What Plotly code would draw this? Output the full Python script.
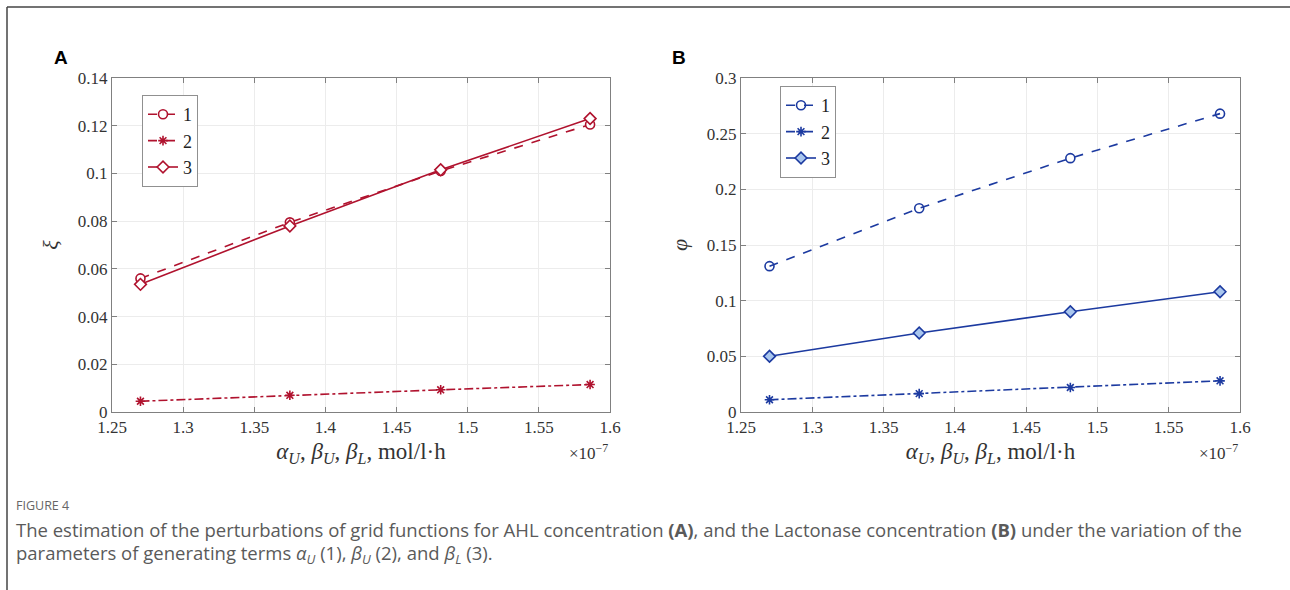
import plotly.graph_objects as go

# ---------------- data ----------------
x_vals = [1.27, 1.375, 1.481, 1.586]  # x 1e-7 mol/l·h

a_s1 = [0.056, 0.0795, 0.101, 0.1205]
a_s2 = [0.0045, 0.007, 0.0093, 0.0115]
a_s3 = [0.0535, 0.078, 0.1015, 0.123]

b_s1 = [0.131, 0.183, 0.228, 0.268]
b_s2 = [0.011, 0.0165, 0.022, 0.028]
b_s3 = [0.050, 0.071, 0.090, 0.108]

series_names = ["1", "2", "3"]

x_ticks = [1.25, 1.3, 1.35, 1.4, 1.45, 1.5, 1.55, 1.6]
x_ticktext = ["1.25", "1.3", "1.35", "1.4", "1.45", "1.5", "1.55", "1.6"]
a_yticks = [0, 0.02, 0.04, 0.06, 0.08, 0.1, 0.12, 0.14]
a_yticktext = ["0", "0.02", "0.04", "0.06", "0.08", "0.1", "0.12", "0.14"]
b_yticks = [0, 0.05, 0.1, 0.15, 0.2, 0.25, 0.3]
b_yticktext = ["0", "0.05", "0.1", "0.15", "0.2", "0.25", "0.3"]

caption_title = "FIGURE 4"
caption_l1 = ("The estimation of the perturbations of grid functions for AHL concentration <b>(A)</b>, "
              "and the Lactonase concentration <b>(B)</b> under the variation of the")
caption_l2 = ("parameters of generating terms <i>α<sub>U</sub></i> (1), <i>β<sub>U</sub></i> (2), "
              "and <i>β<sub>L</sub></i> (3).")

# ---------------- style ----------------
W, H = 1290, 590
RED = "#b0122e"
BLUE = "#1c3aa0"
LIGHTBLUE = "#a9c6ee"
SERIF = "Liberation Serif"
SANS = "Open Sans"
TXT = "#333333"
TICKFONT = dict(family=SERIF, size=17, color=TXT)

def px(x):
    return x / W

def py(y):
    return 1 - y / H

fig = go.Figure()

dashes = ["dash", "dashdot", "solid"]

# Panel A
a_symbols = ["circle", "asterisk-open", "diamond"]
for name, ys, d, sym in zip(series_names, [a_s1, a_s2, a_s3], dashes, a_symbols):
    fig.add_trace(go.Scatter(
        x=x_vals, y=ys, name=name, mode="lines+markers",
        line=dict(color=RED, width=1.6, dash=d),
        marker=dict(symbol=sym, size=9 if sym != "asterisk-open" else 8,
                    color="white" if sym != "asterisk-open" else RED,
                    line=dict(color=RED, width=1.6)),
        xaxis="x", yaxis="y", legend="legend"))

# Panel B
b_symbols = ["circle-open", "asterisk-open", "diamond"]
for name, ys, d, sym in zip(series_names, [b_s1, b_s2, b_s3], dashes, b_symbols):
    fill = {"circle-open": BLUE, "asterisk-open": BLUE, "diamond": LIGHTBLUE}[sym]
    fig.add_trace(go.Scatter(
        x=x_vals, y=ys, name=name, mode="lines+markers",
        line=dict(color=BLUE, width=1.6, dash=d),
        marker=dict(symbol=sym, size=9 if sym != "asterisk-open" else 8,
                    color=fill, line=dict(color=BLUE, width=1.6)),
        xaxis="x2", yaxis="y2", legend="legend2"))


def axis(**kw):
    base = dict(
        showline=True, linecolor="#808080", linewidth=1, mirror="ticks",
        ticks="inside", ticklen=5, tickcolor="#808080",
        showgrid=True, gridcolor="#ececec", gridwidth=1,
        zeroline=False, automargin=False, showticklabels=True,
    )
    base.update(kw)
    return base


def xtitle():
    return dict(text="<i>α<sub>U</sub></i>, <i>β<sub>U</sub></i>, <i>β<sub>L</sub></i>, mol/l·h",
                font=dict(family=SERIF, size=23, color=TXT), standoff=6)


ydom = [py(412), py(78)]
fig.update_layout(
    width=W, height=H,
    margin=dict(l=0, r=0, t=0, b=0, pad=0),
    paper_bgcolor="white", plot_bgcolor="white",
    font=dict(family=SERIF, size=17, color=TXT),
    xaxis=axis(domain=[px(112), px(610)], anchor="y", range=[1.25, 1.6],
               tickvals=x_ticks, ticktext=x_ticktext, title=xtitle()),
    yaxis=axis(domain=ydom, anchor="x", range=[0, 0.14],
               tickvals=a_yticks, ticktext=a_yticktext,
               title=dict(text="<i>ξ</i>", font=dict(family=SERIF, size=22, color=TXT), standoff=13)),
    xaxis2=axis(domain=[px(741), px(1240)], anchor="y2", range=[1.25, 1.6],
                tickvals=x_ticks, ticktext=x_ticktext, title=xtitle()),
    yaxis2=axis(domain=ydom, anchor="x2", range=[0, 0.3],
                tickvals=b_yticks, ticktext=b_yticktext,
                title=dict(text="<i>φ</i>", font=dict(family=SERIF, size=22, color=TXT), standoff=13)),
    legend=dict(x=px(142), y=py(95), xanchor="left", yanchor="top",
                bgcolor="white", bordercolor="#909090", borderwidth=1,
                font=dict(family=SERIF, size=18, color="#222222"),
                itemwidth=30, tracegroupgap=0),
    legend2=dict(x=px(780), y=py(86), xanchor="left", yanchor="top",
                 bgcolor="white", bordercolor="#909090", borderwidth=1,
                 font=dict(family=SERIF, size=18, color="#222222"),
                 itemwidth=30, tracegroupgap=0),
    showlegend=True,
)
fig.update_xaxes(tickfont=TICKFONT)
fig.update_yaxes(tickfont=TICKFONT)

annotations = [
    dict(text="<b>A</b>", x=px(52), y=py(57), xanchor="left", yanchor="middle",
         font=dict(family="Liberation Sans", size=19, color="black")),
    dict(text="<b>B</b>", x=px(670), y=py(57), xanchor="left", yanchor="middle",
         font=dict(family="Liberation Sans", size=19, color="black")),
    dict(text="×10<sup>−7</sup>", x=px(610), y=py(452), xanchor="right", yanchor="middle",
         font=dict(family=SERIF, size=17, color=TXT)),
    dict(text="×10<sup>−7</sup>", x=px(1240), y=py(452), xanchor="right", yanchor="middle",
         font=dict(family=SERIF, size=17, color=TXT)),
    dict(text=caption_title, x=px(14), y=py(505), xanchor="left", yanchor="middle",
         font=dict(family=SANS, size=12.5, color="#666666")),
    dict(text=caption_l1, x=px(14), y=py(529), xanchor="left", yanchor="middle",
         font=dict(family=SANS, size=18.5, color="#5a5a5a")),
    dict(text=caption_l2, x=px(14), y=py(554), xanchor="left", yanchor="middle",
         font=dict(family=SANS, size=18.5, color="#5a5a5a")),
]
for a in annotations:
    a.update(xref="paper", yref="paper", showarrow=False)
fig.update_layout(annotations=annotations)

# outer frame lines (top and left)
fig.update_layout(shapes=[
    dict(type="line", xref="paper", yref="paper", x0=px(7), x1=1, y0=py(7), y1=py(7),
         line=dict(color="#444444", width=1.5)),
    dict(type="line", xref="paper", yref="paper", x0=px(7), x1=px(7), y0=py(7), y1=0,
         line=dict(color="#444444", width=1.5)),
])

fig.write_html("out.html", config={"displayModeBar": False},
               post_script="document.body.style.margin='0';document.body.style.padding='0';")
